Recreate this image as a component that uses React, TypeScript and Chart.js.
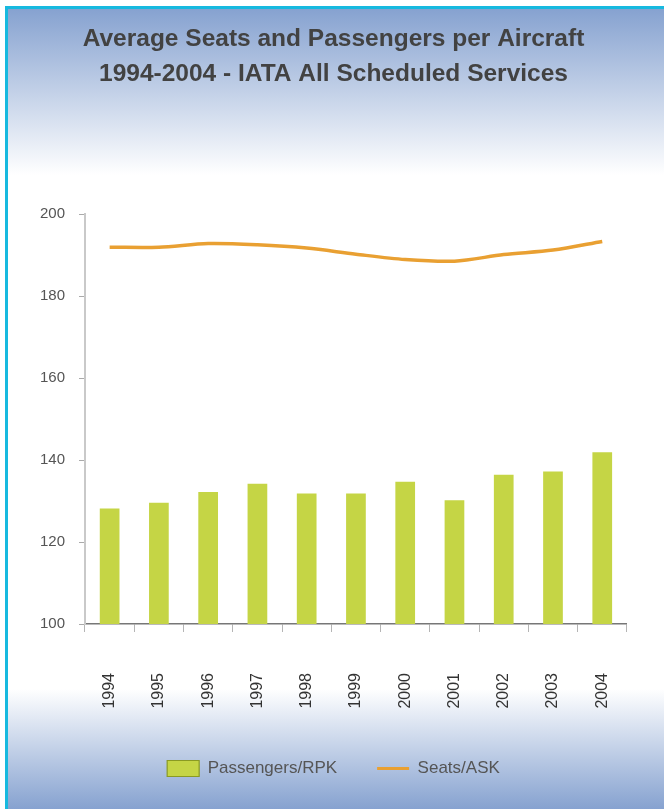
import React, { useEffect, useRef } from 'react';
import { Chart, registerables } from 'chart.js';

Chart.register(...registerables);

const categories = ['1994', '1995', '1996', '1997', '1998', '1999', '2000', '2001', '2002', '2003', '2004'];
const passengers = [128.2, 129.6, 132.2, 134.2, 131.8, 131.8, 134.7, 130.2, 136.4, 137.2, 141.9];
const seats = [191.9, 191.9, 192.8, 192.5, 191.7, 190.2, 188.9, 188.5, 190.1, 191.2, 193.3];
const yMin = 100;
const yMax = 200;
const yStep = 20;
const titleLines = ['Average Seats and Passengers per Aircraft', '1994-2004 - IATA All Scheduled Services'];
const seriesNames = ['Passengers/RPK', 'Seats/ASK'];

const BAR_COLOR = '#C5D545';
const LINE_COLOR = '#E9A032';
const SANS = "'Liberation Sans', Arial, sans-serif";

export default function App() {
  const ref = useRef<HTMLCanvasElement>(null);

  useEffect(() => {
    const canvas = ref.current;
    if (!canvas) return;
    const chart = new Chart(canvas, {
      type: 'bar',
      data: {
        labels: categories,
        datasets: [
          {
            type: 'bar',
            label: seriesNames[0],
            data: passengers,
            backgroundColor: BAR_COLOR,
            borderWidth: 0,
            barPercentage: 0.4,
            categoryPercentage: 1,
          },
          {
            type: 'line',
            label: seriesNames[1],
            data: seats,
            borderColor: LINE_COLOR,
            backgroundColor: LINE_COLOR,
            borderWidth: 3.5,
            pointRadius: 0,
            tension: 0.3,
            fill: false,
          },
        ],
      },
      options: {
        responsive: false,
        animation: false,
        layout: { padding: { left: 3, right: 0, top: 0, bottom: 22 } },
        plugins: {
          tooltip: { enabled: false },
          title: {
            display: true,
            text: titleLines,
            color: '#424242',
            font: { family: SANS, size: 24.5, weight: 'bold', lineHeight: '35.5px' },
            padding: { top: 21, bottom: 122 },
          },
          legend: {
            position: 'bottom',
            maxHeight: 90,
            labels: {
              usePointStyle: true,
              pointStyleWidth: 32,
              boxHeight: 16,
              padding: 40,
              color: '#555555',
              font: { family: SANS, size: 17 },
              generateLabels: (c: any) => {
                const items = Chart.defaults.plugins.legend.labels.generateLabels(c);
                items[0].pointStyle = 'rect';
                items[0].fillStyle = BAR_COLOR;
                items[0].strokeStyle = '#8A9A22';
                items[0].lineWidth = 1.2;
                items[1].pointStyle = 'line';
                items[1].strokeStyle = LINE_COLOR;
                items[1].lineWidth = 3;
                return items;
              },
            },
          },
        },
        scales: {
          x: {
            offset: true,
            ticks: {
              color: '#333333',
              font: { family: SANS, size: 16 },
              padding: 41,
              minRotation: 90,
              maxRotation: 90,
              autoSkip: false,
            },
            grid: { offset: true, drawOnChartArea: false, tickLength: 8, color: '#b5b5b5' },
            border: { color: '#777777', width: 1.5 },
            afterFit: (s: any) => {
              s.height = 96;
            },
          },
          y: {
            min: yMin,
            max: yMax,
            ticks: {
              stepSize: yStep,
              color: '#555555',
              font: { family: SANS, size: 15 },
              padding: 14,
            },
            grid: { drawOnChartArea: false, tickLength: 6, color: '#aaaaaa' },
            border: { color: '#c9c9c9', width: 2 },
            afterFit: (s: any) => {
              s.width = 82;
            },
          },
          y2: {
            type: 'linear',
            position: 'right',
            display: true,
            ticks: { display: false },
            grid: { display: false },
            border: { display: false },
            afterFit: (s: any) => {
              s.width = 34;
            },
          },
        },
      },
    } as any);
    return () => chart.destroy();
  }, []);

  return (
    <div
      style={{
        position: 'absolute',
        left: 0,
        top: 0,
        width: 664,
        height: 809,
        overflow: 'hidden',
        background: '#ffffff',
      }}
    >
      <div
        style={{
          position: 'absolute',
          left: 5,
          top: 6,
          width: 680,
          height: 820,
          borderLeft: '3px solid #17B9DF',
          borderTop: '3px solid #17B9DF',
          background:
            'linear-gradient(to bottom, #86a2d0 0px, #ffffff 166px, #ffffff 680px, #86a2d0 800px)',
        }}
      />
      <canvas ref={ref} width={664} height={809} style={{ position: 'absolute', left: 0, top: 0 }} />
    </div>
  );
}
